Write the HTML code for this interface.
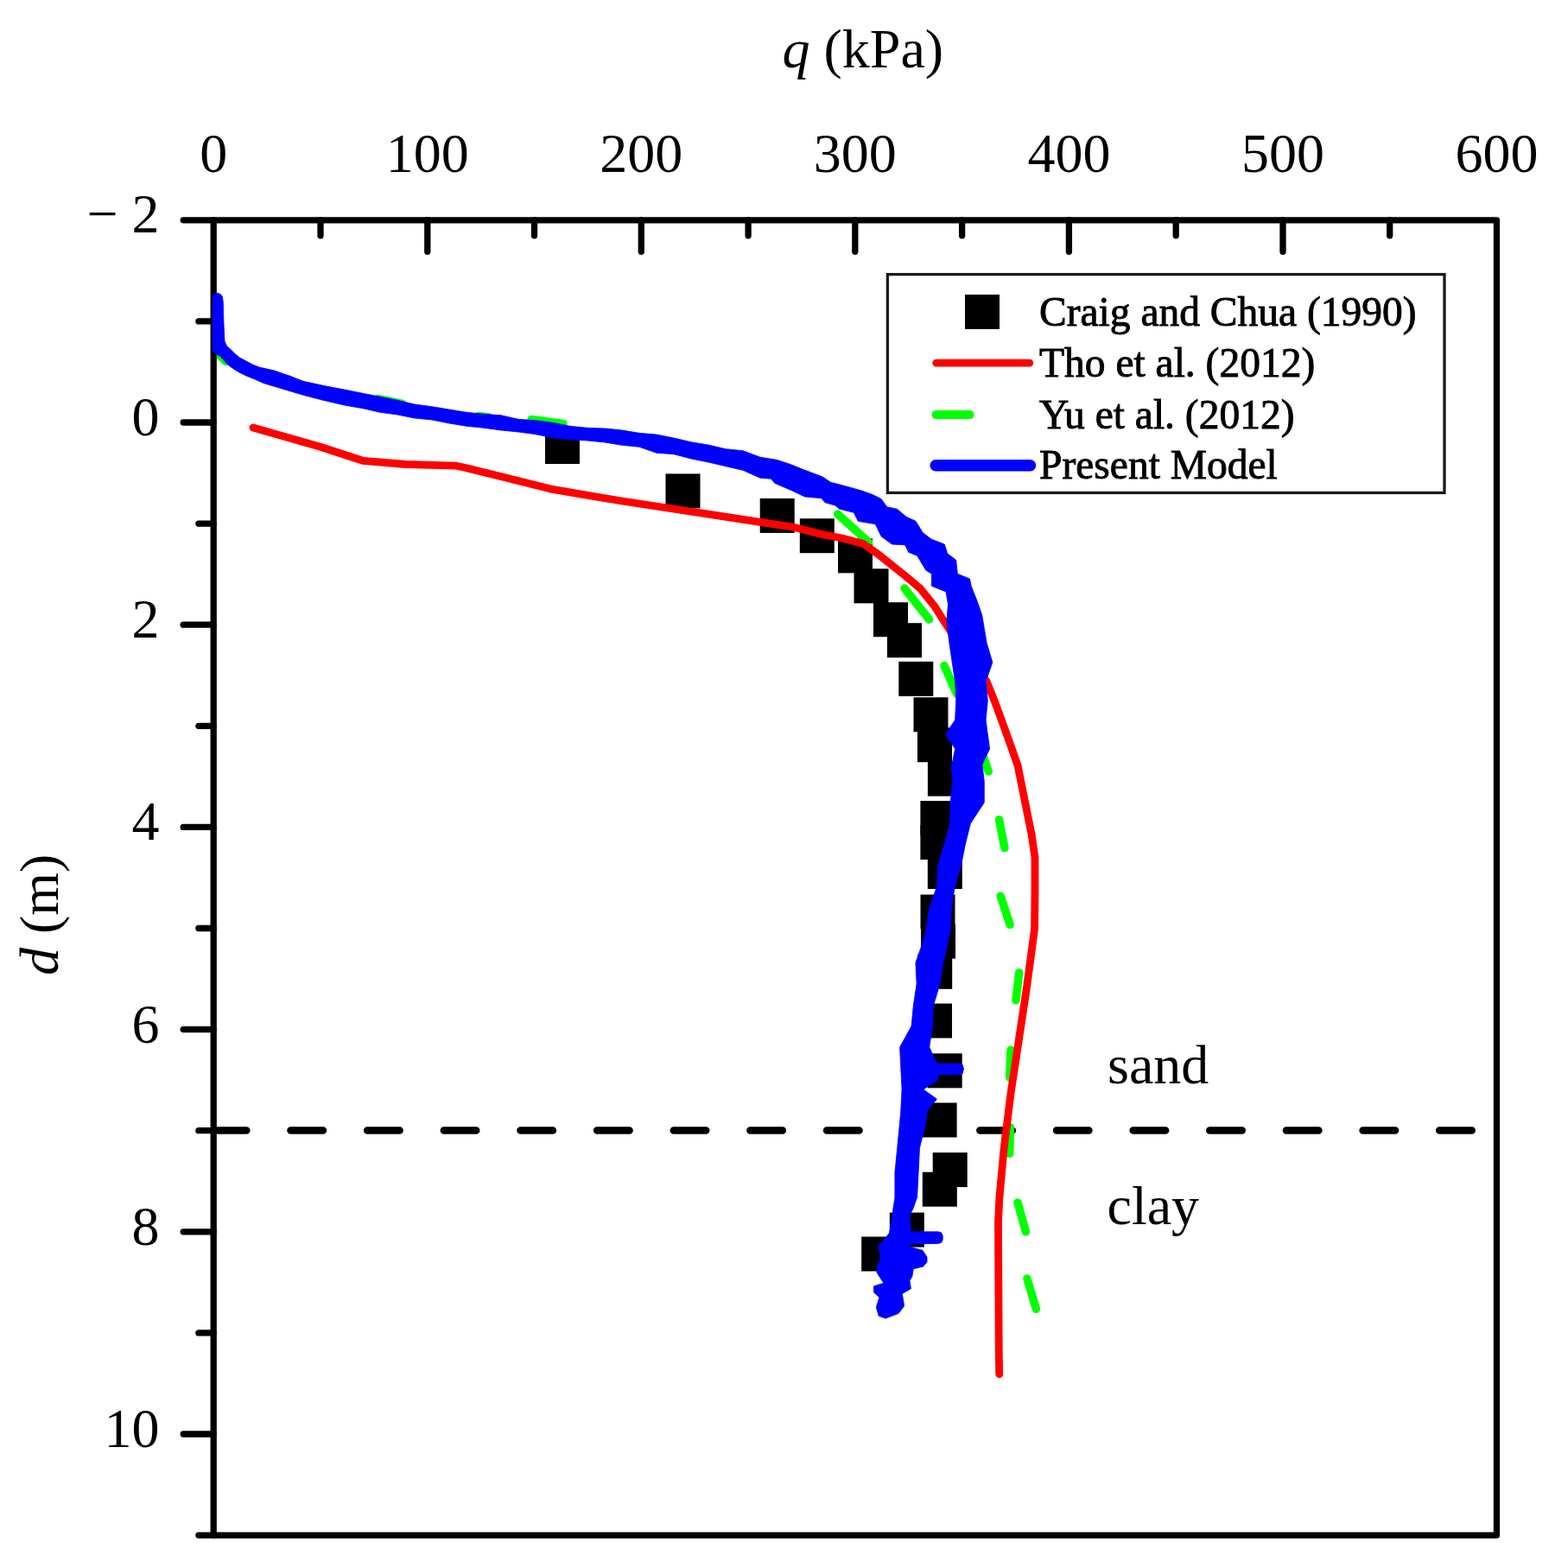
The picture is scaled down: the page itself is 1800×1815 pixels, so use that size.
<!DOCTYPE html>
<html><head><meta charset="utf-8"><title>q vs d</title>
<style>
html,body{margin:0;padding:0;background:#fff;}
body{width:1800px;height:1815px;overflow:hidden;}
svg{display:block;}
text{font-family:"Liberation Serif","Times New Roman",serif;fill:#000;}
</style></head>
<body>
<svg width="1800" height="1815" viewBox="0 0 1800 1815">
<rect width="1800" height="1815" fill="#fff"/>
<g font-size="64">
<text x="247.2" y="198.5" text-anchor="middle">0</text>
<text x="494.8" y="198.5" text-anchor="middle">100</text>
<text x="742.3" y="198.5" text-anchor="middle">200</text>
<text x="989.8" y="198.5" text-anchor="middle">300</text>
<text x="1237.4" y="198.5" text-anchor="middle">400</text>
<text x="1485.0" y="198.5" text-anchor="middle">500</text>
<text x="1732.5" y="198.5" text-anchor="middle">600</text>
<text x="184.5" y="504.0" text-anchor="end">0</text>
<text x="184.5" y="738.2" text-anchor="end">2</text>
<text x="184.5" y="972.4" text-anchor="end">4</text>
<text x="184.5" y="1206.6" text-anchor="end">6</text>
<text x="184.5" y="1440.8" text-anchor="end">8</text>
<text x="184.5" y="1675.0" text-anchor="end">10</text>
<text x="184.5" y="268.8" text-anchor="end">− 2</text>
<text x="905.5" y="77.8"><tspan font-style="italic">q</tspan> (kPa)</text>
<text transform="translate(66.7,1058.8) rotate(-90)" text-anchor="middle"><tspan font-style="italic">d</tspan> (m)</text>
<text x="1282" y="1253.5">sand</text>
<text x="1281.5" y="1416.8">clay</text>
</g>
<rect x="247.2" y="254.8" width="1485.3" height="1522.3" fill="none" stroke="#000" stroke-width="7.3" stroke-linejoin="round"/>
<line x1="371.0" y1="254.8" x2="371.0" y2="272.8" stroke="#000" stroke-width="7.3" stroke-linecap="round"/>
<line x1="494.8" y1="254.8" x2="494.8" y2="291.3" stroke="#000" stroke-width="7.3" stroke-linecap="round"/>
<line x1="618.5" y1="254.8" x2="618.5" y2="272.8" stroke="#000" stroke-width="7.3" stroke-linecap="round"/>
<line x1="742.3" y1="254.8" x2="742.3" y2="291.3" stroke="#000" stroke-width="7.3" stroke-linecap="round"/>
<line x1="866.1" y1="254.8" x2="866.1" y2="272.8" stroke="#000" stroke-width="7.3" stroke-linecap="round"/>
<line x1="989.8" y1="254.8" x2="989.8" y2="291.3" stroke="#000" stroke-width="7.3" stroke-linecap="round"/>
<line x1="1113.6" y1="254.8" x2="1113.6" y2="272.8" stroke="#000" stroke-width="7.3" stroke-linecap="round"/>
<line x1="1237.4" y1="254.8" x2="1237.4" y2="291.3" stroke="#000" stroke-width="7.3" stroke-linecap="round"/>
<line x1="1361.2" y1="254.8" x2="1361.2" y2="272.8" stroke="#000" stroke-width="7.3" stroke-linecap="round"/>
<line x1="1485.0" y1="254.8" x2="1485.0" y2="291.3" stroke="#000" stroke-width="7.3" stroke-linecap="round"/>
<line x1="1608.7" y1="254.8" x2="1608.7" y2="272.8" stroke="#000" stroke-width="7.3" stroke-linecap="round"/>
<line x1="247.2" y1="254.8" x2="212.2" y2="254.8" stroke="#000" stroke-width="7.3" stroke-linecap="round"/>
<line x1="247.2" y1="371.9" x2="229.9" y2="371.9" stroke="#000" stroke-width="7.3" stroke-linecap="round"/>
<line x1="247.2" y1="489.0" x2="212.2" y2="489.0" stroke="#000" stroke-width="7.3" stroke-linecap="round"/>
<line x1="247.2" y1="606.1" x2="229.9" y2="606.1" stroke="#000" stroke-width="7.3" stroke-linecap="round"/>
<line x1="247.2" y1="723.2" x2="212.2" y2="723.2" stroke="#000" stroke-width="7.3" stroke-linecap="round"/>
<line x1="247.2" y1="840.3" x2="229.9" y2="840.3" stroke="#000" stroke-width="7.3" stroke-linecap="round"/>
<line x1="247.2" y1="957.4" x2="212.2" y2="957.4" stroke="#000" stroke-width="7.3" stroke-linecap="round"/>
<line x1="247.2" y1="1074.5" x2="229.9" y2="1074.5" stroke="#000" stroke-width="7.3" stroke-linecap="round"/>
<line x1="247.2" y1="1191.6" x2="212.2" y2="1191.6" stroke="#000" stroke-width="7.3" stroke-linecap="round"/>
<line x1="247.2" y1="1308.7" x2="229.9" y2="1308.7" stroke="#000" stroke-width="7.3" stroke-linecap="round"/>
<line x1="247.2" y1="1425.8" x2="212.2" y2="1425.8" stroke="#000" stroke-width="7.3" stroke-linecap="round"/>
<line x1="247.2" y1="1542.9" x2="229.9" y2="1542.9" stroke="#000" stroke-width="7.3" stroke-linecap="round"/>
<line x1="247.2" y1="1660.0" x2="212.2" y2="1660.0" stroke="#000" stroke-width="7.3" stroke-linecap="round"/>
<line x1="247.2" y1="1777.1" x2="229.9" y2="1777.1" stroke="#000" stroke-width="7.3" stroke-linecap="round"/>
<line x1="247.85" y1="1308.5" x2="1712.5" y2="1308.5" stroke="#000" stroke-width="8.5" stroke-linecap="round" stroke-dasharray="37.5 51.15"/>
<rect x="631.0" y="497.0" width="40" height="40" fill="#000"/>
<rect x="770.5" y="548.4" width="40" height="40" fill="#000"/>
<rect x="879.7" y="576.9" width="40" height="40" fill="#000"/>
<rect x="925.8" y="600.2" width="40" height="40" fill="#000"/>
<rect x="970.0" y="623.3" width="40" height="40" fill="#000"/>
<rect x="988.5" y="658.3" width="40" height="40" fill="#000"/>
<rect x="1011.0" y="697.2" width="40" height="40" fill="#000"/>
<rect x="1027.0" y="721.2" width="40" height="40" fill="#000"/>
<rect x="1040.3" y="765.8" width="40" height="40" fill="#000"/>
<rect x="1057.5" y="807.2" width="40" height="40" fill="#000"/>
<rect x="1062.0" y="842.2" width="40" height="40" fill="#000"/>
<rect x="1073.9" y="881.6" width="40" height="40" fill="#000"/>
<rect x="1065.4" y="927.0" width="40" height="40" fill="#000"/>
<rect x="1065.4" y="955.0" width="40" height="40" fill="#000"/>
<rect x="1073.8" y="989.0" width="40" height="40" fill="#000"/>
<rect x="1065.5" y="1035.5" width="40" height="40" fill="#000"/>
<rect x="1066.0" y="1069.6" width="40" height="40" fill="#000"/>
<rect x="1062.2" y="1104.8" width="40" height="40" fill="#000"/>
<rect x="1062.0" y="1161.6" width="40" height="40" fill="#000"/>
<rect x="1073.7" y="1219.4" width="40" height="40" fill="#000"/>
<rect x="1067.6" y="1276.5" width="40" height="40" fill="#000"/>
<rect x="1079.7" y="1334.1" width="40" height="40" fill="#000"/>
<rect x="1067.8" y="1356.7" width="40" height="40" fill="#000"/>
<rect x="1029.8" y="1403.6" width="40" height="40" fill="#000"/>
<rect x="997.2" y="1431.5" width="40" height="40" fill="#000"/>
<polyline points="253.5,400.0 256.7,405.6 267.8,414.4 284.4,424.4 306.7,434.4 328.9,442.2 351.1,448.9 373.3,454.4 395.6,458.9 417.8,462.8 440.0,466.0 471.7,475.8 513.3,482.8 555.0,488.3 596.7,492.5 638.3,498.0 683.3,503.1 726.7,506.7 770.0,515.4 813.3,523.3 856.7,532.0 880.0,541.0 905.0,553.0 925.0,563.0" fill="none" stroke="#00ff00" stroke-width="9.5" stroke-linecap="round" stroke-linejoin="round"/>
<line x1="255.5" y1="412.5" x2="261.5" y2="418.5" stroke="#00ff00" stroke-width="9.5" stroke-linecap="round"/>
<line x1="437" y1="461.5" x2="466" y2="467.5" stroke="#00ff00" stroke-width="9.5" stroke-linecap="round"/>
<line x1="615" y1="485.5" x2="652" y2="490.5" stroke="#00ff00" stroke-width="9.5" stroke-linecap="round"/>
<line x1="703" y1="500.5" x2="731" y2="504.5" stroke="#00ff00" stroke-width="9.5" stroke-linecap="round"/>
<line x1="554" y1="481.5" x2="566" y2="483.0" stroke="#00ff00" stroke-width="9.5" stroke-linecap="round"/>
<line x1="969.5" y1="595.0" x2="1005.5" y2="627.5" stroke="#00ff00" stroke-width="9.5" stroke-linecap="round"/>
<line x1="1047.0" y1="681.0" x2="1075.5" y2="717.0" stroke="#00ff00" stroke-width="9.5" stroke-linecap="round"/>
<line x1="1093.0" y1="770.5" x2="1107.5" y2="803.0" stroke="#00ff00" stroke-width="9.5" stroke-linecap="round"/>
<line x1="1132.0" y1="858.0" x2="1144.3" y2="893.0" stroke="#00ff00" stroke-width="9.5" stroke-linecap="round"/>
<line x1="1156.5" y1="948.7" x2="1163.0" y2="981.7" stroke="#00ff00" stroke-width="9.5" stroke-linecap="round"/>
<line x1="1158.2" y1="1037.3" x2="1169.1" y2="1070.3" stroke="#00ff00" stroke-width="9.5" stroke-linecap="round"/>
<line x1="1179.7" y1="1125.7" x2="1176.0" y2="1157.8" stroke="#00ff00" stroke-width="9.5" stroke-linecap="round"/>
<line x1="1170.0" y1="1215.2" x2="1168.7" y2="1247.4" stroke="#00ff00" stroke-width="9.5" stroke-linecap="round"/>
<line x1="1169.3" y1="1304.7" x2="1168.7" y2="1335.3" stroke="#00ff00" stroke-width="9.5" stroke-linecap="round"/>
<line x1="1178.0" y1="1392.0" x2="1187.4" y2="1425.8" stroke="#00ff00" stroke-width="9.5" stroke-linecap="round"/>
<line x1="1188.9" y1="1480.0" x2="1199.4" y2="1515.2" stroke="#00ff00" stroke-width="9.5" stroke-linecap="round"/>
<polyline points="293.0,495.0 370.0,517.0 420.0,533.3 470.0,537.5 528.3,539.2 540.0,541.7 586.7,553.3 636.7,565.8 670.0,571.7 720.0,580.0 813.3,594.1 880.0,604.3 916.7,609.8 950.0,618.3 974.8,623.0 999.6,629.6 1016.1,641.2 1032.6,654.4 1049.2,667.6 1065.7,681.7 1082.2,702.3 1093.3,720.0 1107.8,742.2 1142.2,788.9 1151.1,811.1 1163.3,844.4 1168.9,860.0 1178.2,886.5 1186.1,926.1 1194.1,965.8 1198.0,992.3 1198.0,1032.0 1197.6,1075.0 1188.7,1141.7 1179.4,1203.5 1170.1,1265.2 1162.4,1327.0 1159.3,1360.2 1156.9,1386.0 1155.5,1414.6 1156.2,1560.0 1156.7,1590.7" fill="none" stroke="#ff0000" stroke-width="8.8" stroke-linecap="round" stroke-linejoin="round"/>
<polygon points="246.0,343.0 247.5,340.2 250.0,339.4 253.0,339.6 255.5,340.8 257.5,343.5 258.3,350.0 258.6,362.0 259.0,375.0 259.5,385.0 260.0,395.0 262.5,400.5 267.5,405.0 272.5,410.0 277.5,414.0 285.0,418.0 292.5,422.0 300.0,425.0 317.5,429.0 335.0,435.0 351.0,441.3 375.0,446.5 400.0,451.3 420.0,455.3 440.0,459.3 460.0,463.3 480.0,468.0 500.0,470.7 520.0,474.0 540.0,477.3 560.0,479.3 580.0,480.7 600.0,485.3 620.0,486.7 640.0,489.3 660.0,493.3 680.0,495.3 700.0,496.0 720.0,498.0 740.0,501.3 760.0,503.0 780.0,507.0 800.0,511.7 820.0,515.0 840.0,519.7 860.0,521.7 880.0,529.2 900.0,532.5 915.0,537.5 931.7,544.2 951.7,551.7 961.7,558.3 984.2,564.2 998.3,568.3 1010.0,572.5 1020.0,577.5 1026.7,586.7 1038.3,589.2 1049.2,598.3 1060.0,603.3 1068.3,616.7 1078.3,624.2 1093.3,630.0 1096.7,640.8 1106.7,648.3 1108.3,664.2 1122.5,670.0 1124.2,678.3 1130.8,695.0 1136.7,711.7 1142.2,744.4 1148.9,766.7 1141.1,788.9 1143.3,811.1 1141.1,833.3 1143.3,850.0 1145.6,866.7 1137.0,885.0 1139.3,904.4 1139.3,928.9 1123.4,953.3 1117.3,977.8 1112.4,1002.2 1105.1,1026.7 1101.4,1051.1 1100.2,1075.6 1095.3,1100.0 1091.7,1114.4 1088.0,1138.9 1080.7,1163.3 1079.4,1187.8 1075.8,1212.2 1082.8,1227.8 1085.6,1231.1 1111.0,1231.1 1114.2,1232.5 1115.5,1237.5 1114.2,1242.5 1111.0,1243.9 1085.6,1243.9 1085.6,1250.0 1068.9,1261.0 1084.4,1272.2 1073.3,1285.6 1071.7,1300.0 1064.5,1328.7 1063.1,1357.3 1061.6,1386.0 1056.6,1400.0 1053.0,1406.0 1054.4,1425.8 1086.0,1425.8 1089.5,1426.8 1091.2,1430.0 1091.2,1435.0 1089.5,1438.4 1086.0,1439.4 1053.0,1440.0 1052.3,1443.0 1068.0,1447.3 1073.0,1455.0 1073.0,1460.9 1068.8,1465.9 1057.3,1468.8 1055.9,1477.4 1053.0,1482.4 1054.4,1491.7 1044.4,1497.4 1046.6,1511.7 1040.1,1520.3 1025.1,1526.1 1017.2,1523.2 1014.3,1513.2 1017.9,1501.7 1011.5,1496.0 1011.5,1488.8 1022.9,1485.2 1015.0,1473.1 1015.0,1465.9 1019.3,1458.7 1017.2,1441.5 1025.1,1433.0 1029.4,1427.2 1032.2,1414.3 1033.7,1400.0 1035.9,1386.0 1035.9,1357.3 1038.7,1328.7 1041.0,1305.0 1042.8,1285.6 1044.0,1261.1 1042.8,1236.7 1041.6,1212.2 1055.0,1187.8 1057.4,1163.3 1061.1,1138.9 1059.9,1114.4 1068.4,1090.0 1072.1,1075.6 1075.8,1051.1 1084.3,1026.7 1085.6,1002.2 1092.9,977.8 1099.6,953.3 1100.2,928.9 1102.7,904.4 1101.1,888.9 1105.6,866.7 1094.4,850.0 1105.6,833.3 1106.7,811.1 1105.6,788.9 1102.2,766.7 1098.9,744.4 1095.8,720.0 1097.5,699.2 1095.0,685.0 1078.3,678.3 1078.3,664.2 1071.7,660.0 1061.7,643.3 1051.7,639.2 1047.5,630.8 1032.5,630.0 1020.0,620.8 1013.3,606.7 993.3,603.3 988.3,593.3 971.7,589.2 966.7,585.0 955.0,581.7 950.8,576.7 931.7,575.0 915.8,567.5 896.7,559.2 892.5,554.2 880.0,553.3 860.0,544.3 840.0,539.7 820.0,535.0 800.0,531.0 780.0,525.7 760.0,524.3 740.0,517.3 720.0,515.3 700.0,512.0 680.0,510.0 660.0,508.7 640.0,506.7 620.0,502.7 600.0,500.0 580.0,498.0 560.0,495.3 540.0,493.3 520.0,490.0 500.0,486.0 480.0,484.0 460.0,480.0 440.0,477.3 420.0,472.7 400.0,469.3 375.0,463.5 351.0,457.3 330.0,451.0 305.0,443.5 295.0,439.0 285.0,435.0 275.0,430.0 267.5,425.0 262.5,421.0 255.0,412.5 250.0,410.0 246.0,406.0" fill="#0000ff" stroke="#0000ff" stroke-width="0.8" stroke-linejoin="round"/>
<rect x="1027.4" y="317.6" width="644.6" height="252.8" fill="#fff" stroke="#1a1a1a" stroke-width="3.3"/>
<rect x="1117" y="341" width="40" height="40" fill="#000"/>
<line x1="1083.8" y1="420.2" x2="1191.8" y2="420.2" stroke="#ff0000" stroke-width="8.8" stroke-linecap="round"/>
<line x1="1083.6" y1="480.1" x2="1122.6" y2="480.1" stroke="#00ff00" stroke-width="10" stroke-linecap="round"/>
<line x1="1083.2" y1="538.8" x2="1192.5" y2="538.8" stroke="#0000ff" stroke-width="13.5" stroke-linecap="round"/>
<g font-size="47.5" stroke="#000" stroke-width="0.9">
<text x="1203" y="377">Craig and Chua (1990)</text>
<text x="1203" y="436">Tho et al. (2012)</text>
<text x="1203" y="496">Yu et al. (2012)</text>
<text x="1203" y="554">Present Model</text>
</g>
</svg>
</body></html>
